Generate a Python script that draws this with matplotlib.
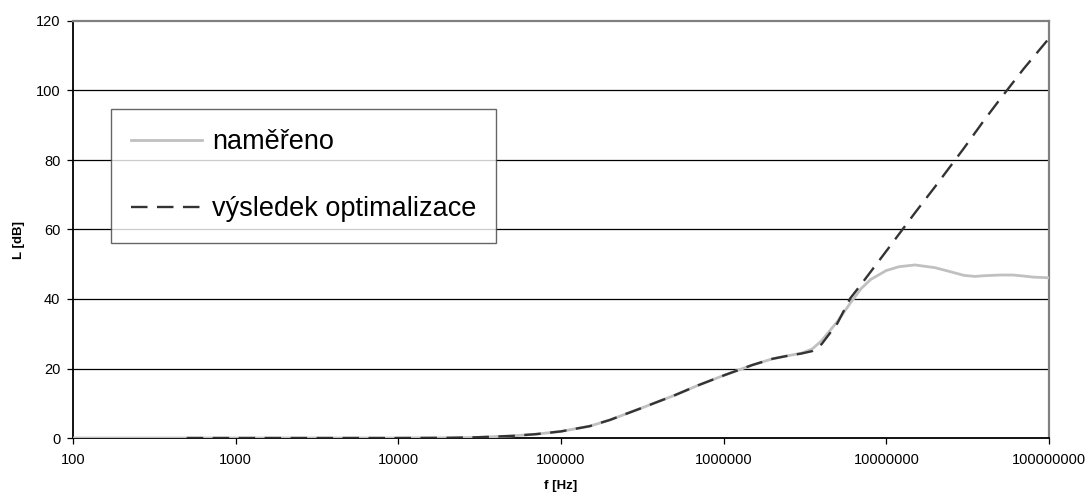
import numpy as np
import matplotlib
matplotlib.use("Agg")
import matplotlib.pyplot as plt

plt.rcParams["font.family"] = ["Liberation Sans", "DejaVu Sans"]

# measured attenuation (naměřeno)
f_meas = [100, 1000, 1e4, 2e4, 3e4, 5e4, 7e4, 1e5, 1.5e5, 2e5, 3e5, 5e5, 7e5,
          1e6, 1.5e6, 2e6, 2.5e6, 3e6, 3.5e6, 4e6, 5e6, 6e6, 7e6, 8e6, 1e7,
          1.2e7, 1.5e7, 2e7, 2.5e7, 3e7, 3.5e7, 4e7, 5e7, 6e7, 7e7, 8e7, 1e8]
L_meas = [0, 0, 0, 0.05, 0.15, 0.6, 1.1, 1.9, 3.4, 5.2, 8.3, 12.3, 15.2,
          18.0, 21.0, 22.8, 23.7, 24.4, 25.6, 28.0, 33.5, 38.8, 43.0, 45.6, 48.2,
          49.3, 49.8, 49.0, 47.8, 46.8, 46.5, 46.7, 46.9, 46.9, 46.6, 46.3, 46.1]

# fitted model (výsledek optimalizace)
f_opt = [500, 1e4, 2e4, 3e4, 5e4, 7e4, 1e5, 1.5e5, 2e5, 3e5, 5e5, 7e5,
         1e6, 1.5e6, 2e6, 2.5e6, 3e6, 3.5e6, 4e6, 5e6, 6e6, 7e6, 8e6, 1e7,
         1.5e7, 2e7, 3e7, 4e7, 5e7, 7e7, 1e8]
L_opt = [0, 0, 0.05, 0.2, 0.6, 1.1, 1.9, 3.4, 5.2, 8.3, 12.3, 15.2,
         18.0, 21.0, 22.8, 23.7, 24.3, 25.0, 27.0, 33.0, 40.2, 44.2, 47.8, 53.8,
         64.8, 72.4, 83.4, 91.5, 97.5, 106.3, 115.0]

yticks = [0, 20, 40, 60, 80, 100, 120]
xticks = [1e2, 1e3, 1e4, 1e5, 1e6, 1e7, 1e8]
xtick_labels = ["100", "1000", "10000", "100000", "1000000", "10000000", "100000000"]

fig = plt.figure(figsize=(10.87, 4.94), dpi=100)
ax = fig.add_axes([73 / 1087, 56 / 494, 976 / 1087, 417 / 494])

for y in yticks[1:-1]:
    ax.axhline(y, color="black", linewidth=0.9, zorder=1)

ax.plot(f_meas, L_meas, color="#c0c0c0", linewidth=2.0, label="naměřeno", zorder=3)
ax.plot(f_opt, L_opt, color="#333333", linewidth=1.7, dashes=(7, 4),
        label="výsledek optimalizace", zorder=4)

ax.set_xscale("log")
ax.set_xlim(1e2, 1e8)
ax.set_ylim(0, 120)
ax.set_xticks(xticks)
ax.set_xticklabels(xtick_labels)
ax.xaxis.set_minor_locator(matplotlib.ticker.NullLocator())
ax.set_yticks(yticks)
ax.tick_params(axis="both", direction="out", length=4, width=0.9,
               labelsize=10.5, colors="black")
ax.tick_params(axis="x", pad=7)
ax.tick_params(axis="y", pad=5)

ax.spines["left"].set_color("black")
ax.spines["bottom"].set_color("black")
ax.spines["left"].set_linewidth(1.3)
ax.spines["bottom"].set_linewidth(1.3)
ax.spines["top"].set_color("#808080")
ax.spines["right"].set_color("#808080")
ax.spines["top"].set_linewidth(1.6)
ax.spines["right"].set_linewidth(1.6)

ax.set_xlabel("f [Hz]", fontsize=9.5, fontweight="bold")
ax.set_ylabel("L [dB]", fontsize=9.5, fontweight="bold")
ax.xaxis.set_label_coords(0.5, -0.1)
ax.yaxis.set_label_coords(-0.049, 0.475)

leg = ax.legend(loc="upper left", bbox_to_anchor=(0.0389, 0.789),
                borderaxespad=0, fontsize=19.5, frameon=True, fancybox=False,
                edgecolor="#404040", handlelength=2.6, handletextpad=0.37,
                labelspacing=1.52, borderpad=0.75)
leg.get_frame().set_linewidth(1.0)

fig.savefig("out.png", dpi=100, facecolor="white")
